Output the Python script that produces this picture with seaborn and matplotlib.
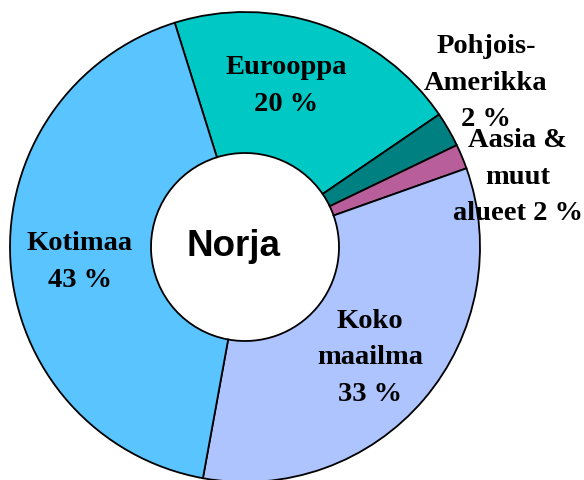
import matplotlib
matplotlib.use("Agg")
import matplotlib.pyplot as plt
import seaborn as sns

# slice order goes clockwise from the top-left boundary
regions = ["Eurooppa", "Pohjois-Amerikka", "Aasia & muut alueet", "Koko maailma", "Kotimaa"]
shares = [20.3, 2.4, 1.7, 33.3, 42.3]
labels = ["Eurooppa\n20 %", "Pohjois-\nAmerikka\n2 %", "Aasia &\nmuut\nalueet 2 %",
          "Koko\nmaailma\n33 %", "Kotimaa\n43 %"]
center_title = "Norja"

colors = ["#00C8C4", "#008080", "#B85E9A", "#ADC4FF", "#5AC4FF"]
# label centres in pixels (x from left, y from top)
label_pos = [(286, 86), (486, 83), (518, 177), (370, 358), (80, 262)]

W, H = 584, 481
sns.set_theme(style="white")
plt.rcParams["font.family"] = ["Liberation Serif", "DejaVu Serif"]

fig = plt.figure(figsize=(W / 100, H / 100), dpi=100)
ax = fig.add_axes([0, 0, 1, 1])

cx, cy, r = 245, 248, 235
ax.pie(shares, colors=colors, startangle=107.4, counterclock=False,
       center=(cx, H - cy), radius=r, frame=True,
       wedgeprops=dict(width=r * 0.6, edgecolor="black", linewidth=1.3))

for lab, (x, y) in zip(labels, label_pos):
    ax.text(x, H - y, lab, ha="center", va="center", fontsize=20.5,
            fontweight="bold", linespacing=1.6, color="black")

# title sits a little left of the hole's centre, as in the original
ax.text(cx - 12, H - cy + 2, center_title, ha="center", va="center", fontsize=26.5,
        fontweight="bold", color="black", family=["Liberation Sans", "DejaVu Sans"])

ax.set_xlim(0, W)
ax.set_ylim(0, H)
ax.set_aspect("equal")
ax.axis("off")
fig.savefig("out.png", dpi=100, facecolor="white")
